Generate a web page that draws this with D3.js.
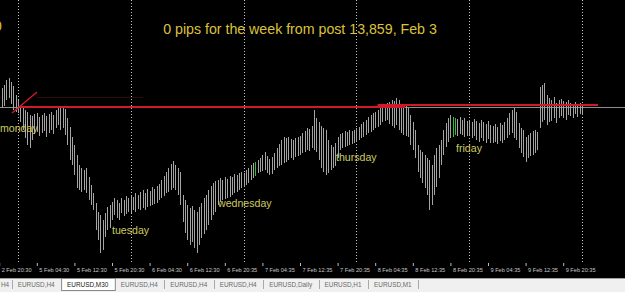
<!DOCTYPE html>
<html>
<head>
<meta charset="utf-8">
<script src="https://cdn.jsdelivr.net/npm/d3@7/dist/d3.min.js"></script>
<style>
  body { margin: 0; background: #000; }
  svg { display: block; font-family: "Liberation Sans", Arial, sans-serif; }
</style>
</head>
<body>
<svg id="chart"></svg>
<script>
"use strict";

// EURUSD M30, one value per bar
var highs = [
  1.3108,1.3112,1.3115,1.3120,1.3122,1.3118,1.3114,1.3105,1.3100,1.3094,
  1.3092,1.3090,1.3088,1.3085,1.3084,1.3086,1.3087,1.3083,1.3085,1.3087,
  1.3084,1.3086,1.3088,1.3085,1.3090,1.3093,1.3092,1.3093,1.3091,1.3082,
  1.3073,1.3063,1.3055,1.3045,1.3035,1.3032,1.3030,1.3032,1.3023,1.3015,
  1.3007,1.2997,1.2988,1.2985,1.2980,1.2987,1.2993,1.2995,1.2998,1.3002,
  1.3000,1.2997,1.3002,1.3000,1.3004,1.3002,1.3005,1.3003,1.3007,1.3005,
  1.3008,1.3010,1.3007,1.3011,1.3009,1.3013,1.3011,1.3014,1.3016,1.3020,
  1.3024,1.3028,1.3032,1.3036,1.3039,1.3035,1.3032,1.3028,1.3005,1.3000,
  1.2995,1.2992,1.2994,1.2990,1.2988,1.2993,1.2997,1.3002,1.3005,1.3010,
  1.3014,1.3017,1.3019,1.3020,1.3022,1.3020,1.3023,1.3021,1.3024,1.3023,
  1.3026,1.3025,1.3027,1.3028,1.3027,1.3030,1.3032,1.3035,1.3037,1.3038,
  1.3040,1.3042,1.3045,1.3048,1.3044,1.3041,1.3043,1.3047,1.3052,1.3056,
  1.3060,1.3063,1.3062,1.3063,1.3061,1.3060,1.3062,1.3063,1.3064,1.3067,
  1.3069,1.3072,1.3071,1.3074,1.3090,1.3082,1.3078,1.3074,1.3072,1.3070,
  1.3060,1.3055,1.3053,1.3057,1.3063,1.3066,1.3067,1.3069,1.3068,1.3070,
  1.3069,1.3070,1.3072,1.3073,1.3076,1.3078,1.3080,1.3083,1.3085,1.3087,
  1.3088,1.3090,1.3092,1.3095,1.3096,1.3097,1.3098,1.3100,1.3099,1.3102,
  1.3100,1.3096,1.3093,1.3094,1.3092,1.3085,1.3078,1.3070,1.3055,1.3050,
  1.3048,1.3045,1.3042,1.3040,1.3035,1.3045,1.3052,1.3055,1.3060,1.3070,
  1.3077,1.3082,1.3085,1.3083,1.3082,1.3081,1.3083,1.3080,1.3082,1.3079,
  1.3080,1.3078,1.3081,1.3079,1.3077,1.3080,1.3078,1.3076,1.3079,1.3075,
  1.3074,1.3076,1.3073,1.3077,1.3075,1.3078,1.3082,1.3087,1.3090,1.3092,
  1.3088,1.3077,1.3072,1.3070,1.3063,1.3065,1.3067,1.3069,1.3070,1.3068,
  1.3113,1.3115,1.3117,1.3105,1.3102,1.3100,1.3103,1.3097,1.3100,1.3101,
  1.3099,1.3098,1.3100,1.3097,1.3096,1.3098,1.3095,1.3097,1.3096
];
var lows = [
  1.3090,1.3092,1.3094,1.3100,1.3102,1.3096,1.3090,1.3088,1.3087,1.3078,
  1.3070,1.3062,1.3055,1.3052,1.3060,1.3066,1.3068,1.3064,1.3067,1.3069,
  1.3063,1.3067,1.3070,1.3066,1.3072,1.3075,1.3070,1.3072,1.3065,1.3055,
  1.3040,1.3035,1.3025,1.3012,1.3010,1.3008,1.3010,1.3007,1.3000,1.2995,
  1.2990,1.2970,1.2960,1.2947,1.2950,1.2963,1.2970,1.2972,1.2980,1.2985,
  1.2982,1.2980,1.2987,1.2984,1.2986,1.2988,1.2987,1.2990,1.2988,1.2991,
  1.2990,1.2992,1.2990,1.2993,1.2994,1.2995,1.2996,1.2997,1.3000,1.3002,
  1.3004,1.3007,1.3008,1.3010,1.3012,1.3010,1.3005,1.2995,1.2978,1.2967,
  1.2960,1.2955,1.2958,1.2952,1.2947,1.2955,1.2962,1.2966,1.2970,1.2975,
  1.2980,1.2985,1.2988,1.2995,1.2998,1.3000,1.3001,1.3002,1.3003,1.3005,
  1.3007,1.3008,1.3010,1.3012,1.3013,1.3015,1.3017,1.3020,1.3022,1.3024,
  1.3027,1.3028,1.3029,1.3030,1.3027,1.3025,1.3026,1.3030,1.3032,1.3034,
  1.3035,1.3037,1.3038,1.3040,1.3042,1.3040,1.3043,1.3044,1.3045,1.3047,
  1.3048,1.3050,1.3049,1.3052,1.3050,1.3048,1.3040,1.3032,1.3028,1.3025,
  1.3027,1.3030,1.3032,1.3034,1.3042,1.3050,1.3052,1.3053,1.3054,1.3055,
  1.3056,1.3057,1.3058,1.3060,1.3062,1.3063,1.3065,1.3067,1.3068,1.3070,
  1.3072,1.3073,1.3075,1.3078,1.3079,1.3080,1.3076,1.3074,1.3072,1.3075,
  1.3070,1.3067,1.3065,1.3064,1.3063,1.3055,1.3050,1.3042,1.3028,1.3022,
  1.3017,1.3012,1.3005,1.2990,1.2995,1.3005,1.3013,1.3022,1.3035,1.3045,
  1.3053,1.3058,1.3062,1.3063,1.3065,1.3064,1.3066,1.3065,1.3063,1.3064,
  1.3065,1.3062,1.3064,1.3060,1.3058,1.3062,1.3059,1.3057,1.3061,1.3057,
  1.3057,1.3058,1.3056,1.3059,1.3057,1.3060,1.3062,1.3065,1.3067,1.3062,
  1.3060,1.3052,1.3047,1.3043,1.3038,1.3042,1.3044,1.3045,1.3047,1.3050,
  1.3072,1.3078,1.3080,1.3075,1.3078,1.3079,1.3082,1.3077,1.3082,1.3084,
  1.3082,1.3080,1.3085,1.3084,1.3082,1.3086,1.3083,1.3086,1.3085
];
var greenBars = [109, 193, 194];

var timeLabels = [
  "2 Feb 20:30", "5 Feb 04:30", "5 Feb 12:30", "5 Feb 20:30",
  "6 Feb 04:30", "6 Feb 12:30", "6 Feb 20:35", "7 Feb 04:35",
  "7 Feb 12:35", "7 Feb 20:35", "8 Feb 04:35", "8 Feb 12:35",
  "8 Feb 20:35", "9 Feb 04:35", "9 Feb 12:35", "9 Feb 20:35"
];
var barsPerLabel = 16;
var barsPerDay = 48;
var firstDayBar = 8;

var bidPrice = 1.3093;

// trend lines: [bar, bar] and [price, price]
var redLineBars = [[5.45, 16.1], [8.85, 172.7], [161, 254.8]];
var redLinePrices = [[1.3087, 1.3108], [1.3093, 1.3093], [1.3095, 1.3095]];
var faintLineBars = [16.1, 61.2];
var faintLinePrice = 1.3103;

var titleText = "0 pips for the week from post 13,859, Feb 3";
var dayNames = ["monday", "tuesday", "wednesday", "thursday", "friday"];
var dayBars = [0.35, 48, 93.1, 143.3, 194.4];
var dayPrices = [1.3068, 1.2966, 1.2993, 1.3039, 1.3048];

var tabNames = ["H4", "EURUSD,H4", "EURUSD,M30", "EURUSD,H4", "EURUSD,H4",
                "EURUSD,H4", "EURUSD,Daily", "EURUSD,H1", "EURUSD,M1"];
var activeTab = 2;

var W = 625, H = 292;
var plotBottom = 263, paneBottom = 278;

var svg = d3.select('#chart').attr('width', W).attr('height', H);

svg.append('rect')
  .attr('width', W).attr('height', paneBottom)
  .attr('fill', '#000');

var x = d3.scaleLinear().domain([0, highs.length - 1]).range([-0.8, 582]);
var y = d3.scaleLinear().domain([1.2938, 1.3200]).range([262, 0]);
var px = function(v) { return Math.round(v) + 0.5; };

// day separators
svg.append('g')
  .selectAll('line')
  .data(d3.range(firstDayBar, highs.length, barsPerDay))
  .enter().append('line')
  .attr('x1', d => px(x(d))).attr('x2', d => px(x(d)))
  .attr('y1', 0).attr('y2', plotBottom)
  .attr('stroke', '#c4c4c4')
  .attr('stroke-dasharray', '1,2');

// bid line
svg.append('line')
  .attr('x1', 0).attr('x2', W)
  .attr('y1', px(y(bidPrice))).attr('y2', px(y(bidPrice)))
  .attr('stroke', '#8c8c8c');

// bars
svg.append('g')
  .selectAll('line')
  .data(highs.map((h, i) => ({i: i, high: h, low: lows[i]})))
  .enter().append('line')
  .attr('x1', d => px(x(d.i))).attr('x2', d => px(x(d.i)))
  .attr('y1', d => y(d.high)).attr('y2', d => y(d.low))
  .attr('stroke', d => greenBars.indexOf(d.i) >= 0 ? '#2fbf2f' : '#a4a4a4')
  .attr('stroke-width', 1);

// faint line
svg.append('line')
  .attr('x1', x(faintLineBars[0])).attr('x2', x(faintLineBars[1]))
  .attr('y1', px(y(faintLinePrice))).attr('y2', px(y(faintLinePrice)))
  .attr('stroke', '#300a0a');

// red trend lines
svg.append('g')
  .selectAll('line')
  .data(redLineBars)
  .enter().append('line')
  .attr('x1', d => x(d[0])).attr('x2', d => x(d[1]))
  .attr('y1', (d, i) => y(redLinePrices[i][0]))
  .attr('y2', (d, i) => y(redLinePrices[i][1]))
  .attr('stroke', '#d01a2c')
  .attr('stroke-width', (d, i) => i === 0 ? 1.5 : 2);

// title
svg.append('text')
  .attr('x', 300).attr('y', 34)
  .attr('text-anchor', 'middle')
  .attr('fill', '#dcc23a')
  .style('font-size', '14.2px')
  .text(titleText);
svg.append('text')
  .attr('x', -6).attr('y', 31)
  .attr('fill', '#dcc23a')
  .style('font-size', '14px')
  .text("0");

// day labels
svg.append('g')
  .selectAll('text')
  .data(dayNames)
  .enter().append('text')
  .attr('x', (d, i) => x(dayBars[i]))
  .attr('y', (d, i) => y(dayPrices[i]))
  .attr('fill', '#cdcb62')
  .style('font-size', '10.6px')
  .text(d => d);

// time axis
var xAxis = d3.axisBottom(x)
  .tickValues(d3.range(0, highs.length, barsPerLabel))
  .tickFormat((d, i) => timeLabels[i])
  .tickSize(3);
var gAxis = svg.append('g')
  .attr('transform', `translate(0,${plotBottom})`)
  .call(xAxis);
gAxis.select('.domain').remove();
gAxis.selectAll('.tick line').attr('stroke', '#bcbcbc');
gAxis.selectAll('.tick text')
  .attr('fill', '#c8c8c8')
  .attr('text-anchor', 'start')
  .attr('x', 2).attr('y', 5)
  .style('font-size', '5.6px')
  .style('font-family', '"Liberation Sans", Arial, sans-serif');

// tab bar
var tabs = svg.append('g').attr('transform', `translate(0,${paneBottom})`);
tabs.append('rect')
  .attr('width', W).attr('height', H - paneBottom)
  .attr('fill', '#f0f0f0');
tabs.append('line')
  .attr('x1', 0).attr('x2', W).attr('y1', 0.5).attr('y2', 0.5)
  .attr('stroke', '#a0a0a0');

var cursor = -9;
tabNames.forEach(function(name, i) {
  var t = tabs.append('text')
    .attr('x', Math.max(cursor + 6, 1)).attr('y', 9)
    .attr('fill', i === activeTab ? '#202020' : '#6a6a6a')
    .style('font-size', '6.4px')
    .text(name);
  var w = t.node().getComputedTextLength() + 12.5;
  if (i === activeTab) {
    tabs.insert('rect', 'text')
      .attr('x', cursor + 0.5).attr('y', 0.5)
      .attr('width', w).attr('height', 12)
      .attr('fill', '#ffffff')
      .attr('stroke', '#8a8a8a');
  } else if (i + 1 !== activeTab) {
    tabs.append('line')
      .attr('x1', px(cursor + w)).attr('x2', px(cursor + w))
      .attr('y1', 2).attr('y2', 11)
      .attr('stroke', '#a8a8a8');
  }
  cursor += w;
});
</script>
</body>
</html>
